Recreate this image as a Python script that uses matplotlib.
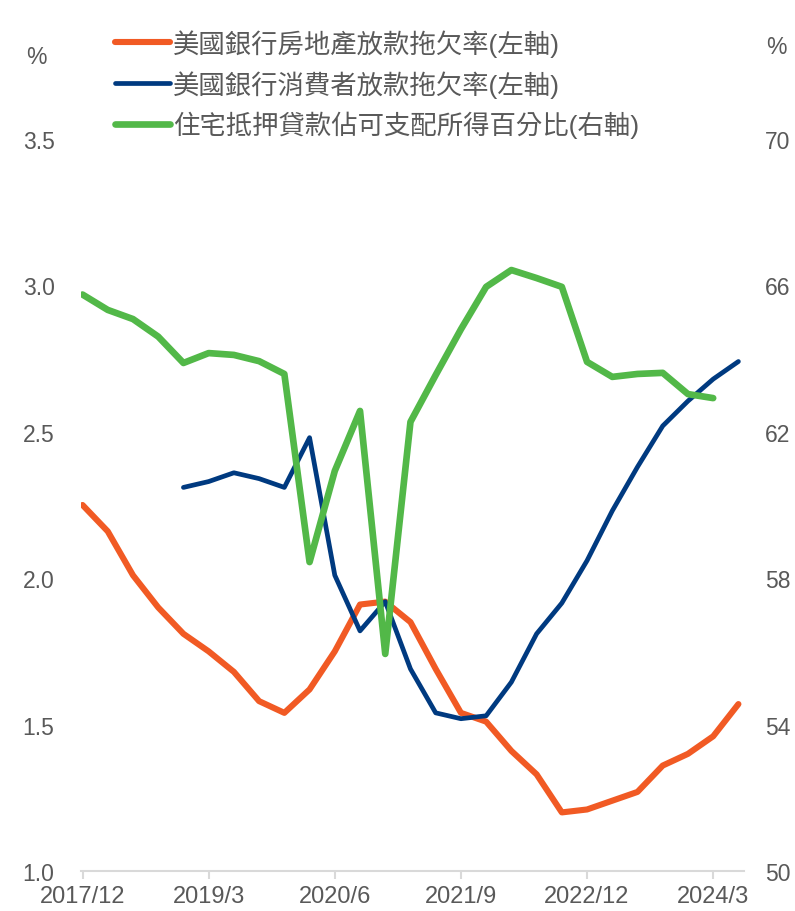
import numpy as np
import matplotlib
matplotlib.use("Agg")
import matplotlib.pyplot as plt

plt.rcParams['font.family'] = ['Liberation Sans', 'Noto Sans CJK TC', 'DejaVu Sans']

# 季度 (2017/12 ~ 2024/6)
trimestres = ["2017/12", "2018/3", "2018/6", "2018/9", "2018/12", "2019/3", "2019/6",
              "2019/9", "2019/12", "2020/3", "2020/6", "2020/9", "2020/12", "2021/3",
              "2021/6", "2021/9", "2021/12", "2022/3", "2022/6", "2022/9", "2022/12",
              "2023/3", "2023/6", "2023/9", "2023/12", "2024/3", "2024/6"]

# 美國銀行房地產放款拖欠率 (%)
immobilier = [2.25, 2.16, 2.01, 1.90, 1.81, 1.75, 1.68, 1.58, 1.54, 1.62, 1.75, 1.91, 1.92,
              1.85, 1.69, 1.54, 1.51, 1.41, 1.33, 1.20, 1.21, 1.24, 1.27, 1.36, 1.40, 1.46, 1.57]

# 美國銀行消費者放款拖欠率 (%)
consommation = [np.nan, np.nan, np.nan, np.nan, 2.31, 2.33, 2.36, 2.34, 2.31, 2.48, 2.01,
                1.82, 1.92, 1.69, 1.54, 1.52, 1.53, 1.645, 1.81, 1.915, 2.06, 2.23, 2.38,
                2.52, 2.605, 2.68, 2.74]

# 住宅抵押貸款佔可支配所得百分比 (%)
hypotheque = [65.75, 65.33, 65.08, 64.6, 63.88, 64.15, 64.1, 63.93, 63.58, 58.44, 60.93,
              62.57, 55.93, 62.27, 63.55, 64.8, 65.96, 66.42, 66.2, 65.96, 63.91, 63.5,
              63.58, 63.61, 63.03, 62.92, np.nan]

etiquettes = ["美國銀行房地產放款拖欠率(左軸)", "美國銀行消費者放款拖欠率(左軸)",
              "住宅抵押貸款佔可支配所得百分比(右軸)"]

gris = "#595959"
x = np.arange(len(trimestres))

fig = plt.figure(figsize=(7.95, 9.12), dpi=100)
ax = fig.add_axes([0.1019, 0.0439, 0.8339, 0.8026])
ax2 = ax.twinx()

l1, = ax.plot(x, immobilier, color="#F15A24", lw=4.4, solid_capstyle="round", solid_joinstyle="round")
l2, = ax.plot(x, consommation, color="#003A80", lw=3.4, solid_capstyle="round", solid_joinstyle="round")
l3, = ax2.plot(x, hypotheque, color="#52B848", lw=4.8, solid_capstyle="round", solid_joinstyle="round")

ax.set_xlim(-0.06, 26.22)
ax.set_ylim(1.0, 3.5)
ax2.set_ylim(50, 70)
ax.set_yticks([1.0, 1.5, 2.0, 2.5, 3.0, 3.5])
ax.set_yticklabels(["1.0", "1.5", "2.0", "2.5", "3.0", "3.5"])
ax2.set_yticks([50, 54, 58, 62, 66, 70])

# un tick tous les 5 trimestres
pos = x[::5]
ax.set_xticks(pos)
ax.set_xticklabels([trimestres[i] for i in pos])

for a in (ax, ax2):
    for s in a.spines.values():
        s.set_visible(False)
ax.spines["bottom"].set_visible(True)
ax.spines["bottom"].set_color("#D9D9D9")
ax.spines["bottom"].set_linewidth(1.5)

ax.tick_params(axis="x", colors="#D9D9D9", labelcolor=gris, labelsize=17, length=6, width=1.5, pad=4)
ax.tick_params(axis="y", length=0, labelcolor=gris, labelsize=16.5, pad=19)
ax2.tick_params(axis="y", length=0, labelcolor=gris, labelsize=16.5, pad=15)

fig.text(36 / 795, 1 - 57 / 912, "%", color=gris, fontsize=16.5, ha="center", va="center")
fig.text(776 / 795, 1 - 47 / 912, "%", color=gris, fontsize=16.5, ha="center", va="center")

fig.legend([l1, l2, l3], etiquettes, loc="upper left", bbox_to_anchor=(115 / 795, 1 - 30 / 912),
           frameon=False, fontsize=19, labelcolor=gris, handlelength=2.1, handletextpad=0.1,
           labelspacing=0.5, borderpad=0, borderaxespad=0)

fig.savefig("out.png", dpi=100)
